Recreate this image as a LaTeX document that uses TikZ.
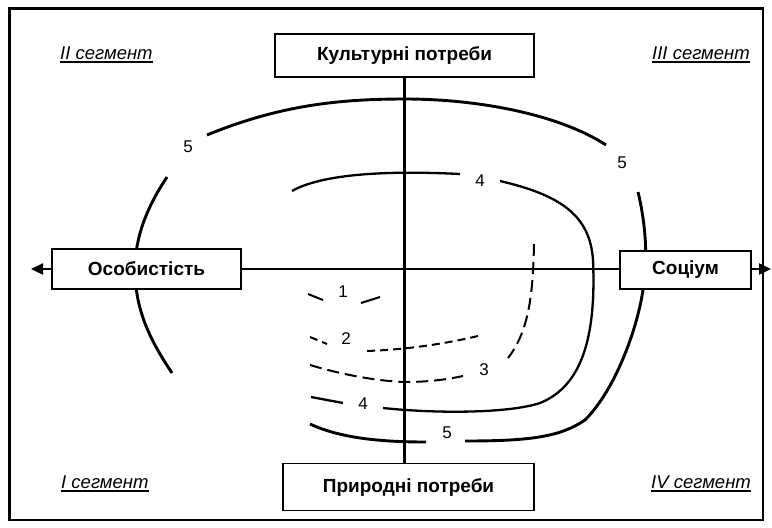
\documentclass[tikz,border=0pt]{standalone}
\usepackage{fontspec}
\setmainfont{Liberation Sans}
\usetikzlibrary{arrows.meta}

\begin{document}
\begin{tikzpicture}[x=1pt, y=-1pt,
    box/.style={draw, line width=1.7pt, fill=white, inner sep=0pt,
      font=\fontsize{19}{21}\selectfont\bfseries},
    seg/.style={anchor=base west, inner xsep=0pt, inner ysep=2.5pt,
      font=\fontsize{18.5}{21}\selectfont\itshape,
      append after command={(\tikzlastnode.south west) edge[line width=1.6pt] (\tikzlastnode.south east)}},
    num/.style={font=\fontsize{17}{19}\selectfont, inner sep=0pt},
    axis/.style={line width=2.3pt},
    dashA/.style={line width=2pt, dash pattern=on 12pt off 6pt},
    dashB/.style={line width=2pt, dash pattern=on 8pt off 5pt}]
    \useasboundingbox (0,0) rectangle (772,528);

    % Frame
    \draw[line width=2.6pt] (9.5,8.5) rectangle (763,520);

    % Segments
    \node[seg] (segII) at (60,59) {II сегмент};
    \node[seg] (segIII) at (652,59) {III сегмент};
    \node[seg] (segI) at (61,488) {I сегмент};
    \node[seg] (segIV) at (651,488) {IV сегмент};

    % Curve 5
    \draw[line width=2.9pt] (207,135) .. controls (280,105) and (340,99) .. (405,99)
      .. controls (480,99) and (560,115) .. (606,145);
    \draw[line width=2.9pt] (167,177) .. controls (145,210) and (135,240) .. (135,269)
      .. controls (135,310) and (150,340) .. (172,373);
    \draw[line width=2.9pt] (638,192) .. controls (646,225) and (648,260) .. (643,290)
      .. controls (637,330) and (615,390) .. (585,420)
      .. controls (560,437) and (530,441) .. (465,441);
    \draw[line width=2.9pt] (426,442) .. controls (380,442) and (340,438) .. (310,424);

    % Curve 4
    \draw[line width=2.3pt] (292,191) .. controls (320,175) and (380,170) .. (460,174);
    \draw[line width=2.3pt] (500,181) .. controls (560,195) and (590,215) .. (593,260)
      .. controls (596,330) and (585,385) .. (540,403)
      .. controls (510,413) and (440,414) .. (383,408);
    \draw[line width=2.3pt] (311,397) -- (343,403);

    % Curve 3
    \draw[dashA] (534,244) .. controls (533,290) and (530,330) .. (508,358);
    \draw[dashA] (310,365) .. controls (340,374) and (375,381) .. (405,382)
      .. controls (420,382) and (440,381) .. (463,376);

    % Curve 2
    \draw[dashB] (310,337) -- (327,344);
    \draw[dashB] (478,336) .. controls (440,345) and (400,350) .. (366,351);

    % Curve 1
    \draw[line width=2pt] (308,294) -- (323,300);
    \draw[line width=2pt] (361,303) -- (380,297);

    % Numbers
    \node[num] (n5a) at (188,147) {5};
    \node[num] (n5b) at (622,163) {5};
    \node[num] (n4a) at (480,181) {4};
    \node[num] (n1) at (343,292) {1};
    \node[num] (n2) at (346,339) {2};
    \node[num] (n3) at (484,370) {3};
    \node[num] (n4b) at (363,404) {4};
    \node[num] (n5c) at (447,433) {5};

    % Boxes
    \node[box, minimum width=259pt, minimum height=43pt] (cult) at (404.5,55.5) {Культурні потреби};
    \node[box, minimum width=251pt, minimum height=47pt] (prir) at (408.5,487) {Природні потреби};
    \node[box, minimum width=189pt, minimum height=40pt] (osob) at (146.5,269) {Особистість};
    \node[box, minimum width=131pt, minimum height=38pt] (soc) at (685.5,270) {Соціум};
    \coordinate (larr) at (31,269);
    \coordinate (rarr) at (771,269);

    % Axes
    \draw[axis] (osob.east) -- (osob.east -| soc.west);
    \draw[axis] (cult.south) -- (cult.south |- prir.north);
    \draw[axis, -{Triangle[length=12pt, width=11pt]}] (osob.west) -- (larr);
    \draw[axis, -{Triangle[length=12pt, width=11pt]}] (soc.east |- osob.east) -- (rarr);
\end{tikzpicture}
\end{document}
